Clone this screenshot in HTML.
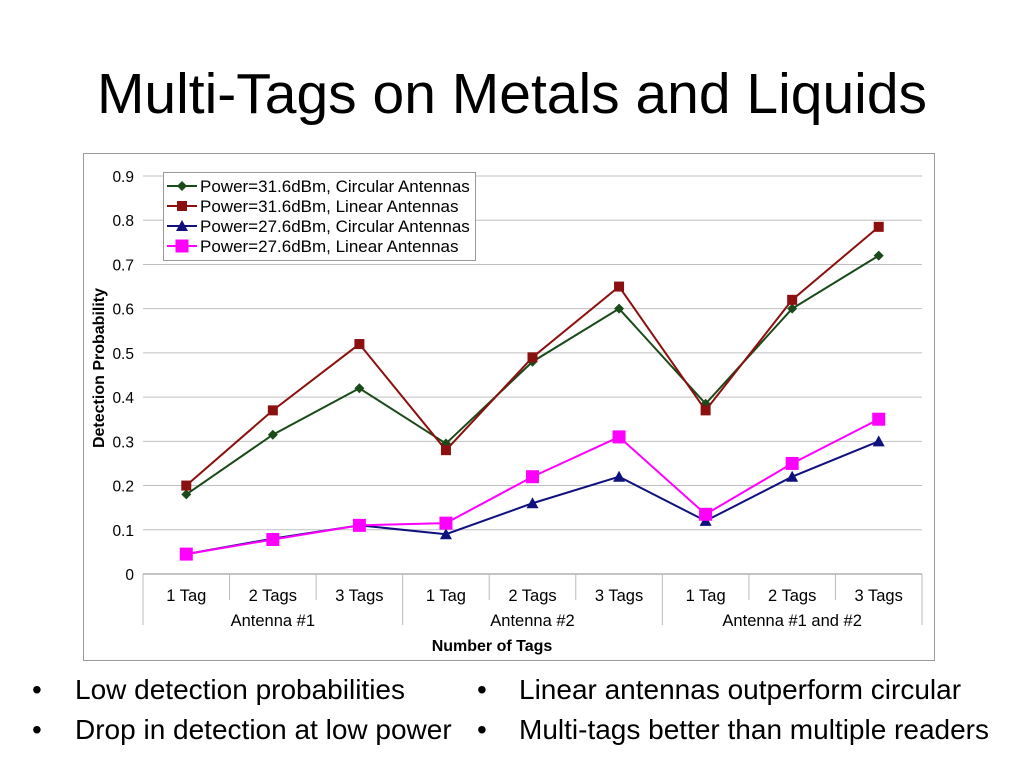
<!DOCTYPE html>
<html><head><meta charset="utf-8"><style>
body{margin:0;background:#fff;width:1024px;height:768px;overflow:hidden;font-family:"Liberation Sans",sans-serif;position:relative}
#title{position:absolute;left:0;width:1024px;top:61px;text-align:center;font-size:57px;color:#000;white-space:nowrap}
.b{position:absolute;font-size:28px;color:#000;white-space:nowrap;line-height:30px}
</style></head><body>
<div id="title">Multi-Tags on Metals and Liquids</div>
<svg width="1024" height="768" style="position:absolute;left:0;top:0" id="chart"></svg>
<div class="b" style="left:32px;top:675px">•</div>
<div class="b" style="left:75px;top:675px">Low detection probabilities</div>
<div class="b" style="left:32px;top:715px">•</div>
<div class="b" style="left:75px;top:715px">Drop in detection at low power</div>
<div class="b" style="left:477px;top:675px">•</div>
<div class="b" style="left:519px;top:675px">Linear antennas outperform circular</div>
<div class="b" style="left:477px;top:715px">•</div>
<div class="b" style="left:519px;top:715px">Multi-tags better than multiple readers</div>
<script>
const categories=["1 Tag","2 Tags","3 Tags","1 Tag","2 Tags","3 Tags","1 Tag","2 Tags","3 Tags"];
const groups=["Antenna #1","Antenna #2","Antenna #1 and #2"];
const yTicks=[0,0.1,0.2,0.3,0.4,0.5,0.6,0.7,0.8,0.9];
const s1=[0.18,0.315,0.42,0.295,0.48,0.60,0.385,0.60,0.72];
const s2=[0.20,0.37,0.52,0.28,0.49,0.65,0.37,0.62,0.785];
const s3=[0.045,0.08,0.11,0.09,0.16,0.22,0.12,0.22,0.30];
const s4=[0.045,0.078,0.11,0.115,0.22,0.31,0.135,0.25,0.35];
const names=["Power=31.6dBm, Circular Antennas","Power=31.6dBm, Linear Antennas","Power=27.6dBm, Circular Antennas","Power=27.6dBm, Linear Antennas"];
const svg=document.getElementById('chart');const NS="http://www.w3.org/2000/svg";
function el(t,a,p){const e=document.createElementNS(NS,t);for(const k in a)e.setAttribute(k,a[k]);(p||svg).appendChild(e);return e;}
const X0=143,X1=922,Y0=574,Y1=176,cw=(X1-X0)/categories.length;
const x=i=>X0+cw*(i+0.5), y=v=>Y0-(v/0.9)*(Y0-Y1);
let r=el('rect',{x:83.5,y:153.5,width:851,height:507,fill:'#fff',stroke:'#999'});

yTicks.forEach(v=>{
 if(v>0){let g=el('line',{x1:X0,x2:X1,y1:y(v),y2:y(v),stroke:'#c0c0c0'});}
 let t=el('text',{x:134,y:y(v)+6,'text-anchor':'end','font-size':15.5});t.textContent=v;
 
});
let ax=el('line',{x1:X0,x2:X1,y1:Y0,y2:Y0,stroke:'#888'});
for(let i=0;i<=categories.length;i++){
 const gx=X0+cw*i;const big=i%3===0;
 let l=el('line',{x1:gx,x2:gx,y1:Y0,y2:big?625:600,stroke:'#bbb'});
}
categories.forEach((c,i)=>{let t=el('text',{x:x(i),y:601,'text-anchor':'middle','font-size':16.5});t.textContent=c;
 });
groups.forEach((g,i)=>{let t=el('text',{x:x(i*3+1),y:626,'text-anchor':'middle','font-size':16.5});t.textContent=g;
 });
let xt=el('text',{x:492,y:651,'text-anchor':'middle','font-size':16,'font-weight':'bold'});xt.textContent='Number of Tags';

let yt=el('text',{x:0,y:0,'text-anchor':'middle','font-size':16,'font-weight':'bold',transform:'translate(104,368) rotate(-90)'});yt.textContent='Detection Probability';

const series=[s1,s2,s3,s4],colors=['#1a4a1a','#8b1010','#10107f','#ff00ff'],marks=['diamond','square','tri','bigsquare'];
function marker(m,cx,cy,c){
 if(m==='diamond')return el('polygon',{points:`${cx},${cy-5} ${cx+5},${cy} ${cx},${cy+5} ${cx-5},${cy}`,fill:c});
 if(m==='square')return el('rect',{x:cx-5,y:cy-5,width:10,height:10,fill:c});
 if(m==='tri')return el('polygon',{points:`${cx},${cy-6} ${cx+6},${cy+5} ${cx-6},${cy+5}`,fill:c});
 return el('rect',{x:cx-6.5,y:cy-6.5,width:13,height:13,fill:c});
}
series.forEach((s,k)=>{
 let p=el('polyline',{points:s.map((v,i)=>x(i)+','+y(v)).join(' '),fill:'none',stroke:colors[k],'stroke-width':2});
 
 s.forEach((v,i)=>{let m=marker(marks[k],x(i),y(v),colors[k]);});
});
let lg=el('rect',{x:163.5,y:172.5,width:312,height:88,fill:'#fff',stroke:'#999'});

names.forEach((n,k)=>{const ly=186+k*20;
 let l=el('line',{x1:167,x2:197,y1:ly,y2:ly,stroke:colors[k],'stroke-width':2});
 let m=marker(marks[k],182,ly,colors[k]);
 let t=el('text',{x:200,y:ly+6,'font-size':17});t.textContent=n;
});
</script>
</body></html>
